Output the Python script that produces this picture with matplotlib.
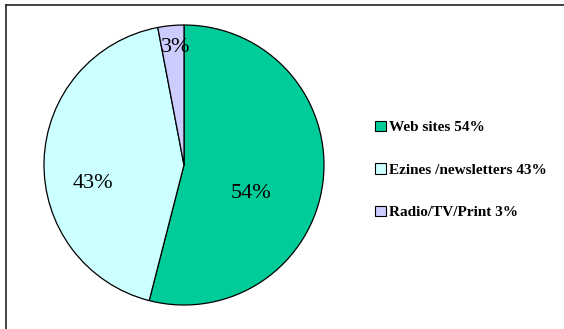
import matplotlib.pyplot as plt
from matplotlib.patches import Patch
from matplotlib.lines import Line2D

categories = ["Web sites", "Ezines /newsletters", "Radio/TV/Print"]
shares = [54, 43, 3]
colors = ["#00CC99", "#CCFFFF", "#CCCCFF"]

plt.rcParams["font.family"] = ["Liberation Serif", "DejaVu Serif"]

W, H = 564, 329
fig = plt.figure(figsize=(W / 100, H / 100), dpi=100)
fig.patch.set_facecolor("white")

# pie centre (184, 165) px, radius 140 px
cx, cy, r = 184, 165, 140
ax = fig.add_axes([(cx - r) / W, (H - cy - r) / H, 2 * r / W, 2 * r / H])
wedges, texts, autotexts = ax.pie(
    shares, colors=colors, startangle=90, counterclock=False,
    autopct="%d%%", pctdistance=0.6,
    wedgeprops=dict(edgecolor="black", linewidth=0.9),
    textprops=dict(fontsize=16, color="black"),
)
ax.set_xlim(-1, 1)
ax.set_ylim(-1, 1)
ax.set_aspect("equal")

# nudge the percentage labels the way the chart tool placed them
label_pos = [(0.48, -0.2), (-0.65, -0.135), (-0.057, 0.84)]
for t, p in zip(autotexts, label_pos):
    t.set_position(p)

handles = [Patch(facecolor=c, edgecolor="black", linewidth=0.8) for c in colors]
labels = [f"{n} {v}%" for n, v in zip(categories, shares)]
fig.legend(handles, labels, loc="upper left",
           bbox_to_anchor=(375 / W, 1 - 120.5 / H),
           frameon=False, borderpad=0, borderaxespad=0,
           handlelength=0.72, handleheight=0.72, handletextpad=0.2,
           labelspacing=1.88, prop=dict(weight="bold", size=11))

# chart area border (top and left edges)
fig.add_artist(Line2D([6 / W, 1], [1 - 4.5 / H, 1 - 4.5 / H], color="#222222", linewidth=1.2))
fig.add_artist(Line2D([6 / W, 6 / W], [0, 1 - 4.5 / H], color="#222222", linewidth=1.2))

fig.savefig("out.png", dpi=100)
